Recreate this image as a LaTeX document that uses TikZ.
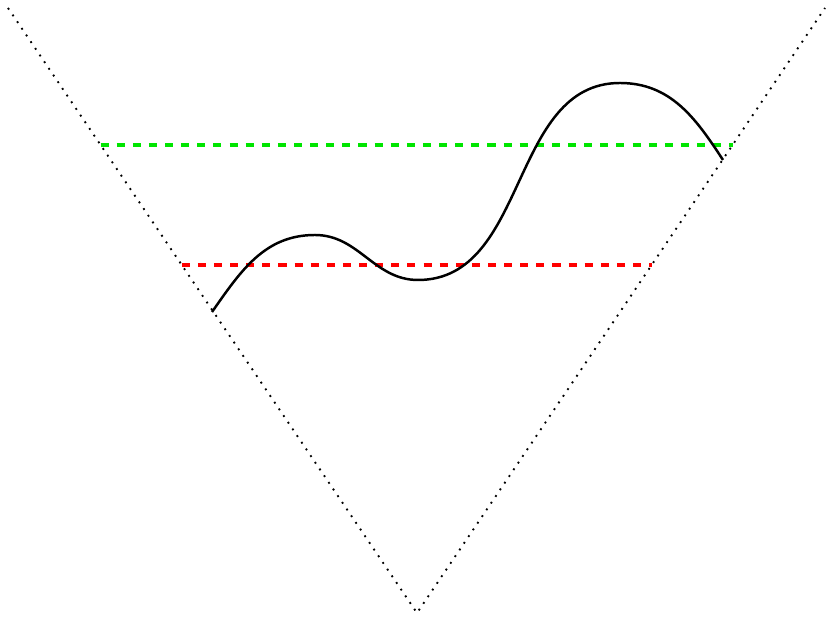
\documentclass[tikz,border=0pt]{standalone}
\usetikzlibrary{calc}
\begin{document}
\begin{tikzpicture}[x=0.3226pt,y=0.3226pt,
  vline/.style={dotted,semithick},
  curveline/.style={thick},
  level/.style={dash pattern=on 2.6pt off 2.6pt,line width=1pt}]
\useasboundingbox (0,0) rectangle (828,617);
\coordinate (L) at (8,609);
\coordinate (B) at (417,4);
\coordinate (R) at (825,609);
\draw[vline] (L) -- (B) -- (R);
\coordinate (GL) at ($(L)!0.2264!(B)$);
\coordinate (GR) at ($(R)!0.2264!(B)$);
\coordinate (RL) at ($(L)!0.4248!(B)$);
\coordinate (RR) at ($(R)!0.4248!(B)$);
\draw[level,green!90!black] (GL) -- (GR);
\draw[level,red] (RL) -- (RR);
\coordinate (C0) at (212,305);
\coordinate (C1) at (315,382);
\coordinate (C2) at (418,337);
\coordinate (C3) at (620,534);
\coordinate (C4) at (723,457);
\draw[curveline] (C0) to[out=55,in=180] (C1) to[out=0,in=180] (C2)
  to[out=0,in=180] (C3) to[out=0,in=123] (C4);
\end{tikzpicture}
\end{document}
